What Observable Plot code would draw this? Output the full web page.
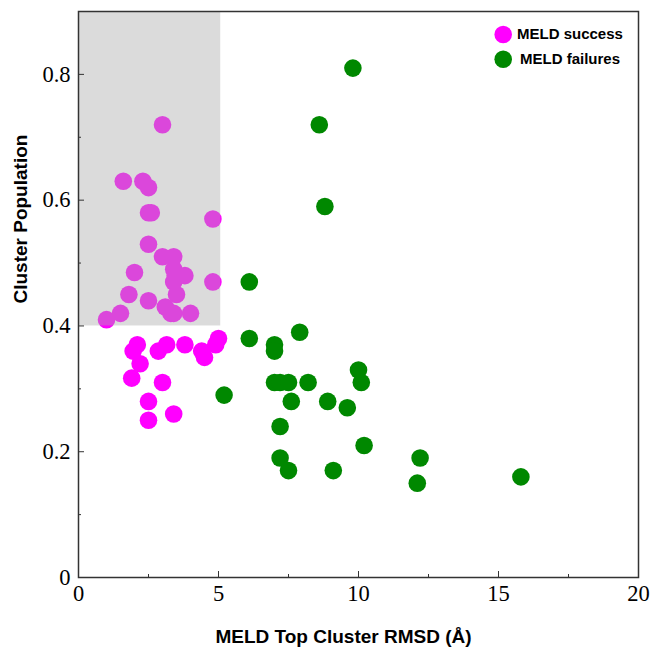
<!DOCTYPE html>
<html>
<head>
<meta charset="utf-8">
<script src="https://cdn.jsdelivr.net/npm/d3@7"></script>
<script src="https://cdn.jsdelivr.net/npm/@observablehq/plot@0.6"></script>
<style>
  html, body { margin: 0; padding: 0; background: white; }
</style>
</head>
<body>
<div id="chart"></div>
<script>
// MELD success
const successX = [1.0, 1.5, 1.6, 1.8, 2.0, 2.3, 2.5, 2.5, 2.6, 2.5, 2.5, 3.0, 3.0, 3.4, 3.4, 3.45, 3.8, 3.4, 3.5, 3.1, 3.3, 3.4, 4.0, 4.8, 4.8,
                  2.1, 1.95, 2.2, 1.9, 2.85, 3.15, 3.8, 4.4, 4.5, 4.9, 5.0, 3.0, 2.5, 2.5, 3.4];
const successY = [0.41, 0.42, 0.63, 0.45, 0.485, 0.63, 0.62, 0.58, 0.58, 0.53, 0.44, 0.72, 0.51, 0.51, 0.49, 0.48, 0.48, 0.47, 0.45, 0.43, 0.42, 0.42, 0.42, 0.57, 0.47,
                  0.37, 0.36, 0.34, 0.317, 0.36, 0.37, 0.37, 0.36, 0.35, 0.37, 0.38, 0.31, 0.28, 0.25, 0.26];
// MELD failures
const failX = [6.1, 6.1, 7.0, 7.0, 7.9, 5.2, 7.0, 7.2, 7.5, 8.2, 7.6, 8.9, 9.6, 10.0, 10.1, 7.2, 10.2, 7.2, 7.5, 9.1, 9.8, 8.6, 8.8, 12.2, 12.1, 15.8];
const failY = [0.47, 0.38, 0.37, 0.36, 0.39, 0.29, 0.31, 0.31, 0.31, 0.31, 0.28, 0.28, 0.27, 0.33, 0.31, 0.24, 0.21, 0.19, 0.17, 0.17, 0.81, 0.72, 0.59, 0.19, 0.15, 0.16];

// highlighted region
const boxX = [0, 5.08];
const boxY = [0.4, 0.9];

const xTickValues = [0, 5, 10, 15, 20];
const xMinorTicks = [2.5, 7.5, 12.5, 17.5];
const yTickValues = [0, 0.2, 0.4, 0.6, 0.8];
const yMinorTicks = [0.1, 0.3, 0.5, 0.7];
const legendLabels = ["MELD success", "MELD failures"];
const xTitle = "MELD Top Cluster RMSD (Å)";
const yTitle = "Cluster Population";

const success = successX.map((x, i) => ({x, y: successY[i]}));
const failures = failX.map((x, i) => ({x, y: failY[i]}));
const box = [{x1: boxX[0], x2: boxX[1], y1: boxY[0], y2: boxY[1]}];

const W = 652, H = 648, mL = 78, mR = 14, mT = 11, mB = 71;
const fw = W - mL - mR, fh = H - mT - mB;
const sans = "Liberation Sans, Arial, sans-serif";
const serif = "Liberation Serif, Times New Roman, serif";

const chart = Plot.plot({
  width: W, height: H,
  marginLeft: mL, marginRight: mR, marginTop: mT, marginBottom: mB,
  x: {domain: [0, 20]},
  y: {domain: [0, 0.9]},
  style: {background: "white", color: "black", overflow: "visible"},
  marks: [
    Plot.dot(success, {x: "x", y: "y", r: 8.8, fill: "#ff00ff"}),
    Plot.dot(failures, {x: "x", y: "y", r: 8.8, fill: "#008800"}),
    Plot.rect(box, {x1: "x1", x2: "x2", y1: "y1", y2: "y2", fill: "#aaaaaa", fillOpacity: 0.42}),
    Plot.frame({stroke: "#333", strokeWidth: 1.5}),
    Plot.tickX(xTickValues.slice(1, -1), {x: d => d, insetTop: fh - 6, stroke: "#333", strokeWidth: 1}),
    Plot.tickX(xMinorTicks, {x: d => d, insetTop: fh - 3, stroke: "#333", strokeWidth: 1}),
    Plot.tickY(yTickValues.slice(1), {y: d => d, insetRight: fw - 6, stroke: "#333", strokeWidth: 1}),
    Plot.tickY(yMinorTicks, {y: d => d, insetRight: fw - 3, stroke: "#333", strokeWidth: 1}),
    Plot.axisX({ticks: xTickValues, tickSize: 0, tickPadding: 8, fontSize: 22.5, fontFamily: serif, label: null, tickFormat: d => String(d)}),
    Plot.axisY({ticks: yTickValues, tickSize: 0, tickPadding: 8, fontSize: 22.5, fontFamily: serif, label: null, tickFormat: d => d === 0 ? "0" : d.toFixed(1)}),
    Plot.text([xTitle], {frameAnchor: "bottom", dx: -15, dy: 59, fontSize: 19, fontWeight: "bold", fontFamily: sans, fill: "black", lineAnchor: "middle"}),
    Plot.text([yTitle], {frameAnchor: "left", rotate: -90, dx: -58, dy: 9, fontSize: 19, fontWeight: "bold", fontFamily: sans, fill: "black", lineAnchor: "middle"}),
    // legend
    Plot.dot([legendLabels[0]], {frameAnchor: "top-right", dx: -135.3, dy: 23, r: 8.8, fill: "#ff00ff"}),
    Plot.dot([legendLabels[1]], {frameAnchor: "top-right", dx: -135.3, dy: 47.7, r: 8.8, fill: "#008800"}),
    Plot.text([legendLabels[0]], {frameAnchor: "top-right", dx: -121.5, dy: 23, textAnchor: "start", lineAnchor: "middle", fontSize: 15, fontWeight: "bold", fontFamily: sans, fill: "black"}),
    Plot.text([legendLabels[1]], {frameAnchor: "top-right", dx: -118.5, dy: 47.3, textAnchor: "start", lineAnchor: "middle", fontSize: 15, fontWeight: "bold", fontFamily: sans, fill: "black"})
  ]
});
document.getElementById("chart").appendChild(chart);
</script>
</body>
</html>
